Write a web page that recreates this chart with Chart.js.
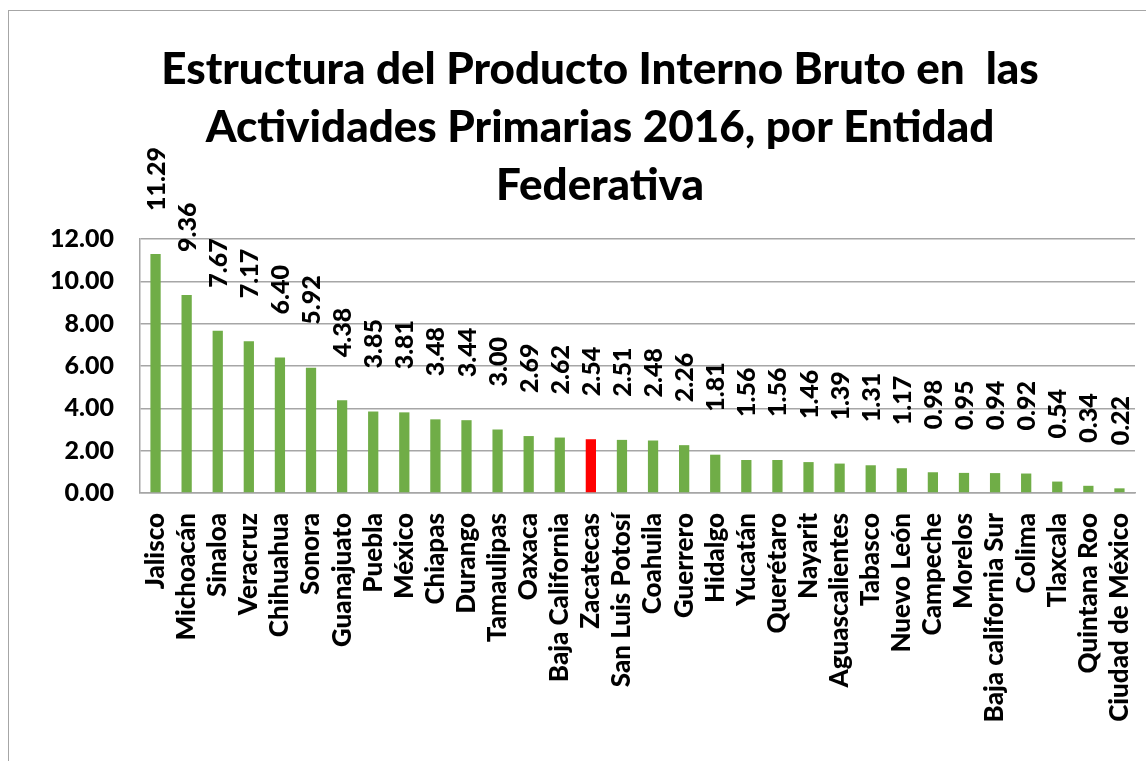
<!DOCTYPE html>
<html>
<head>
<meta charset="utf-8">
<script src="https://cdn.jsdelivr.net/npm/chart.js@4"></script>
<style>
    html, body { margin: 0; padding: 0; background: #fff; overflow: hidden; }
    #frame { position: absolute; left: 8px; top: 10px; width: 1150px; height: 760px; border: 1px solid #a6a6a6; }
    #wrap { position: absolute; left: 0; top: 0; width: 1200px; height: 761px; }
</style>
</head>
<body>
<div id="frame"></div>
<div id="wrap"><canvas id="chart"></canvas></div>
<script>
// ----------------- Data -----------------
const estados = ['Jalisco', 'Michoacán', 'Sinaloa', 'Veracruz', 'Chihuahua', 'Sonora', 'Guanajuato', 'Puebla',
    'México', 'Chiapas', 'Durango', 'Tamaulipas', 'Oaxaca', 'Baja California', 'Zacatecas', 'San Luis Potosí',
    'Coahuila', 'Guerrero', 'Hidalgo', 'Yucatán', 'Querétaro', 'Nayarit', 'Aguascalientes', 'Tabasco',
    'Nuevo León', 'Campeche', 'Morelos', 'Baja california Sur', 'Colima', 'Tlaxcala', 'Quintana Roo', 'Ciudad de México'];
const participacion = [11.29, 9.36, 7.67, 7.17, 6.40, 5.92, 4.38, 3.85, 3.81, 3.48, 3.44, 3.00, 2.69, 2.62, 2.54, 2.51,
    2.48, 2.26, 1.81, 1.56, 1.56, 1.46, 1.39, 1.31, 1.17, 0.98, 0.95, 0.94, 0.92, 0.54, 0.34, 0.22];
const yTicks = [0, 2, 4, 6, 8, 10, 12];
const tituloLineas = ['Estructura del Producto Interno Bruto en  las', 'Actividades Primarias 2016, por Entidad', 'Federativa'];
const destacado = 'Zacatecas';

const FONT = 'Lato, "DejaVu Sans", sans-serif';

// title drawn by hand so the plot area can be placed freely
const titlePlugin = {
    id: 'titulo',
    afterDraw(chart) {
        const ctx = chart.ctx;
        ctx.save();
        ctx.font = '900 44px ' + FONT;
        ctx.fillStyle = '#000';
        ctx.textAlign = 'center';
        ctx.textBaseline = 'middle';
        tituloLineas.forEach((t, i) => ctx.fillText(t, 600, 70 + i * 58));
        ctx.restore();
    }
};

// vertical value labels above each bar
const labelPlugin = {
    id: 'etiquetas',
    afterDatasetsDraw(chart) {
        const ctx = chart.ctx;
        const meta = chart.getDatasetMeta(0);
        ctx.save();
        ctx.font = '900 25px ' + FONT;
        ctx.fillStyle = '#000';
        ctx.textAlign = 'left';
        ctx.textBaseline = 'middle';
        meta.data.forEach((bar, i) => {
            ctx.save();
            ctx.translate(bar.x + 1, bar.y - 43);
            ctx.rotate(-Math.PI / 2);
            ctx.fillText(participacion[i].toFixed(2), 0, 0);
            ctx.restore();
        });
        ctx.restore();
    }
};

new Chart(document.getElementById('chart'), {
    type: 'bar',
    data: {
        labels: estados,
        datasets: [{
            data: participacion,
            backgroundColor: estados.map(e => e === destacado ? '#ff0000' : '#70ad47'),
            barPercentage: 0.33,
            categoryPercentage: 1
        }]
    },
    options: {
        responsive: true,
        maintainAspectRatio: false,
        animation: false,
        layout: { padding: { top: 239, right: 65, left: 0, bottom: 0 } },
        plugins: {
            legend: { display: false },
            title: { display: false },
            tooltip: { enabled: false }
        },
        scales: {
            x: {
                grid: { display: false, drawTicks: false },
                border: { color: '#a6a6a6', width: 1.5 },
                ticks: {
                    color: '#000',
                    font: { family: FONT, size: 26, weight: '900' },
                    minRotation: 90,
                    maxRotation: 90,
                    autoSkip: false,
                    padding: 20
                },
                afterFit(scale) { scale.height = 268; }
            },
            y: {
                min: 0,
                max: 12,
                afterBuildTicks(scale) { scale.ticks = yTicks.map(v => ({ value: v })); },
                grid: { color: '#a6a6a6', lineWidth: 1.5, drawTicks: false },
                border: { color: '#a6a6a6', width: 1.5 },
                ticks: {
                    color: '#000',
                    font: { family: FONT, size: 25, weight: '900' },
                    padding: 26,
                    callback: v => v.toFixed(2)
                },
                afterFit(scale) { scale.width = 140; }
            }
        }
    },
    plugins: [titlePlugin, labelPlugin]
});
</script>
</body>
</html>
